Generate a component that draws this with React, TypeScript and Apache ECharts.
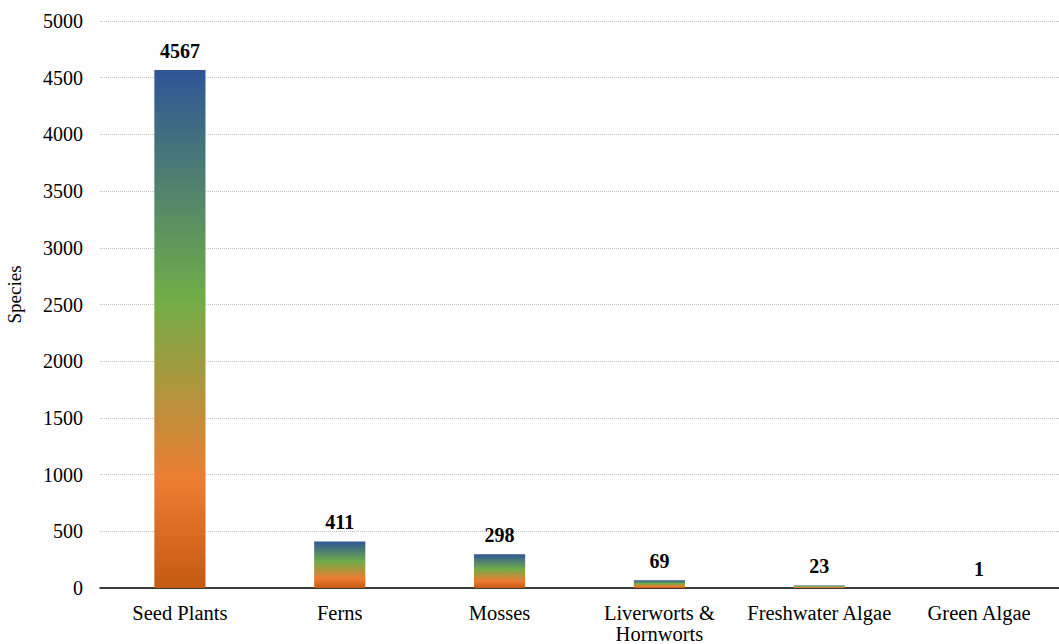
import React, { useEffect, useRef } from "react";
import * as echarts from "echarts";

const categories = ["Seed Plants", "Ferns", "Mosses", "Liverworts & Hornworts", "Freshwater Algae", "Green Algae"];
const speciesCounts = [4567, 411, 298, 69, 23, 1];
const yTicks = { min: 0, max: 5000, interval: 500 };

const FONT = "'Liberation Serif', 'Times New Roman', serif";

export default function App() {
  const ref = useRef<HTMLDivElement>(null);
  useEffect(() => {
    if (!ref.current) return;
    const chart = echarts.init(ref.current, null, { renderer: "svg" });
    const gradient = new echarts.graphic.LinearGradient(0, 0, 0, 1, [
      { offset: 0, color: "#2f5597" },
      { offset: 0.44, color: "#70ad47" },
      { offset: 0.79, color: "#ed7d31" },
      { offset: 1, color: "#c55a11" },
    ]);
    chart.setOption({
      animation: false,
      backgroundColor: "#ffffff",
      grid: { left: 100, right: 0, top: 21, bottom: 56, containLabel: false, outerBoundsMode: "none" },
      xAxis: {
        type: "category",
        data: categories,
        axisLine: { show: true, lineStyle: { color: "#000000", width: 1.5 } },
        axisTick: { show: false },
        axisLabel: {
          interval: 0,
          color: "#000000",
          fontFamily: FONT,
          fontSize: 20.5,
          lineHeight: 21,
          margin: 14,
          formatter: (v: string) => v.replace(" & ", " &\n"),
        },
      },
      yAxis: {
        type: "value",
        min: yTicks.min,
        max: yTicks.max,
        interval: yTicks.interval,
        name: "Species",
        nameLocation: "middle",
        nameGap: 76,
        nameRotate: 90,
        nameTextStyle: { color: "#000000", fontFamily: FONT, fontSize: 19, padding: [0, 0, 0, 20] },
        axisLine: { show: false },
        axisTick: { show: false },
        axisLabel: {
          color: "#000000",
          fontFamily: FONT,
          fontSize: 20,
          margin: 17,
          formatter: (v: number) => String(v),
        },
        splitLine: { show: true, lineStyle: { color: "#bfbfbf", type: "dotted", width: 1 } },
      },
      series: [
        {
          type: "bar",
          data: speciesCounts,
          barWidth: "32%",
          itemStyle: { color: gradient },
          label: {
            show: true,
            position: "top",
            distance: 9,
            color: "#000000",
            fontFamily: FONT,
            fontWeight: "bold",
            fontSize: 20,
          },
        },
      ],
    });
    return () => chart.dispose();
  }, []);
  return <div ref={ref} style={{ width: 1059, height: 644, position: "absolute", left: 0, top: 0 }} />;
}
